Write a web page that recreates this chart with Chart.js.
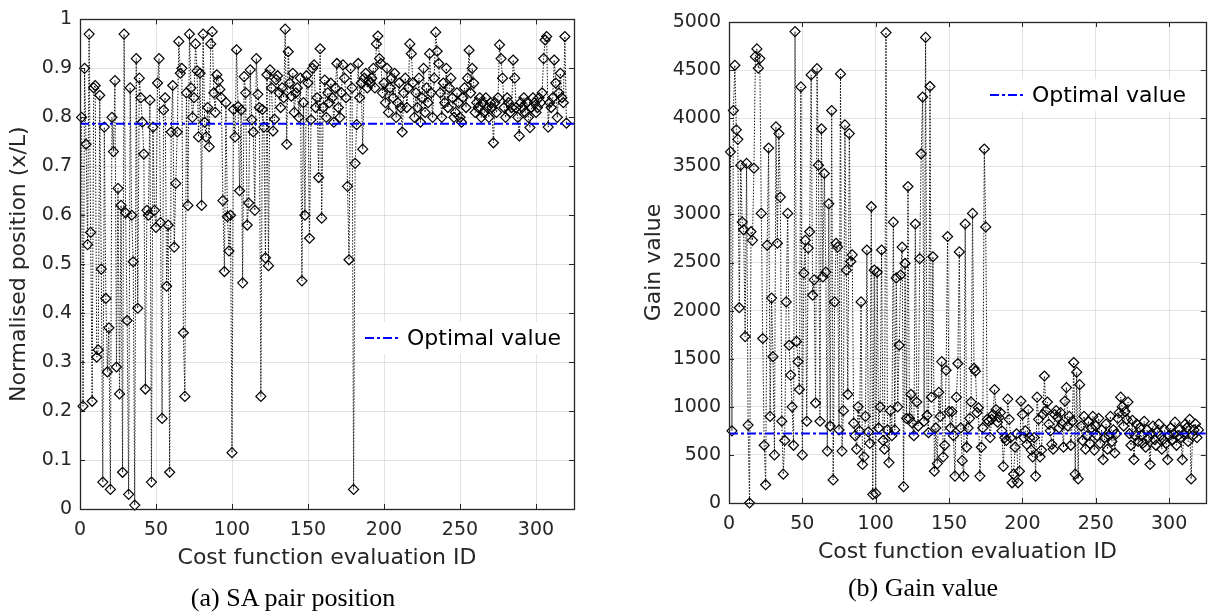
<!DOCTYPE html>
<html>
<head>
<meta charset="utf-8">
<script src="https://cdn.jsdelivr.net/npm/chart.js@4.4.1/dist/chart.umd.min.js"></script>
<style>
  html, body { margin: 0; padding: 0; background: #fff; }
  #wrap { position: relative; width: 1212px; height: 615px; overflow: hidden; }
  .panel { position: absolute; top: 0; height: 615px; }
  #pa { left: 0; width: 600px; }
  #pb { left: 600px; width: 612px; }
  .cap { position: absolute; width: 300px; text-align: center; font-family: "Liberation Serif", "Times New Roman", serif; font-size: 26px; line-height: 30px; color: #000; white-space: nowrap; }
</style>
</head>
<body>
<div id="wrap">
  <div class="panel" id="pa"><canvas id="chartA"></canvas></div>
  <div class="panel" id="pb"><canvas id="chartB"></canvas></div>
  <div class="cap" style="left:143px;top:583px">(a) SA pair position</div>
  <div class="cap" style="left:773px;top:573px">(b) Gain value</div>
</div>
<script>
// Data
const idTicks = [0, 50, 100, 150, 200, 250, 300];
const positionTicks = [0, 0.1, 0.2, 0.3, 0.4, 0.5, 0.6, 0.7, 0.8, 0.9, 1];
const gainTicks = [0, 500, 1000, 1500, 2000, 2500, 3000, 3500, 4000, 4500, 5000];

const optimalPosition = 0.787;
const optimalGain = 722;

const positionValues = [
  0.80, 0.21, 0.90, 0.745, 0.54, 0.97, 0.565, 0.22, 0.86, 0.865,
  0.31, 0.325, 0.845, 0.49, 0.055, 0.78, 0.43, 0.28, 0.37, 0.04,
  0.80, 0.73, 0.875, 0.29, 0.655, 0.235, 0.62, 0.075, 0.97, 0.605,
  0.385, 0.03, 0.86, 0.60, 0.505, 0.008, 0.92, 0.41, 0.88, 0.84,
  0.79, 0.725, 0.245, 0.61, 0.60, 0.835, 0.055, 0.78, 0.61, 0.575,
  0.87, 0.92, 0.585, 0.185, 0.815, 0.84, 0.455, 0.58, 0.075, 0.77,
  0.865, 0.535, 0.665, 0.77, 0.955, 0.89, 0.90, 0.36, 0.23, 0.85,
  0.62, 0.97, 0.86, 0.80, 0.84, 0.95, 0.895, 0.76, 0.89, 0.62,
  0.97, 0.79, 0.76, 0.82, 0.74, 0.95, 0.975, 0.85, 0.81, 0.887,
  0.875, 0.857, 0.84, 0.63, 0.485, 0.83, 0.597, 0.527, 0.60, 0.115,
  0.816, 0.76, 0.938, 0.822, 0.65, 0.815, 0.462, 0.883, 0.85, 0.58,
  0.625, 0.897, 0.795, 0.77, 0.61, 0.92, 0.847, 0.82, 0.23, 0.816,
  0.78, 0.513, 0.887, 0.497, 0.897, 0.86, 0.772, 0.796, 0.877, 0.885,
  0.85, 0.82, 0.86, 0.84, 0.98, 0.745, 0.934, 0.87, 0.843, 0.89,
  0.81, 0.85, 0.86, 0.80, 0.88, 0.466, 0.83, 0.60, 0.885, 0.87,
  0.553, 0.795, 0.90, 0.907, 0.82, 0.84, 0.677, 0.94, 0.594, 0.82,
  0.876, 0.80, 0.85, 0.83, 0.87, 0.84, 0.79, 0.86, 0.91, 0.82,
  0.80, 0.85, 0.907, 0.88, 0.84, 0.659, 0.509, 0.90, 0.86, 0.04,
  0.706, 0.785, 0.91, 0.84, 0.87, 0.735, 0.88, 0.89, 0.86, 0.875,
  0.87, 0.88, 0.90, 0.86, 0.95, 0.966, 0.92, 0.91, 0.85, 0.87,
  0.83, 0.90, 0.81, 0.86, 0.88, 0.84, 0.89, 0.80, 0.83, 0.87,
  0.82, 0.77, 0.85, 0.88, 0.82, 0.86, 0.95, 0.93, 0.87, 0.80,
  0.85, 0.82, 0.88, 0.79, 0.84, 0.90, 0.81, 0.86, 0.83, 0.93,
  0.85, 0.80, 0.88, 0.974, 0.935, 0.91, 0.85, 0.80, 0.87, 0.83,
  0.90, 0.82, 0.86, 0.88, 0.84, 0.80, 0.81, 0.85, 0.83, 0.80,
  0.79, 0.84, 0.86, 0.82, 0.88, 0.937, 0.85, 0.90, 0.87, 0.81,
  0.83, 0.82, 0.84, 0.80, 0.83, 0.81, 0.84, 0.82, 0.80, 0.83,
  0.82, 0.748, 0.83, 0.81, 0.84, 0.948, 0.92, 0.88, 0.82, 0.80,
  0.84, 0.83, 0.81, 0.82, 0.917, 0.88, 0.82, 0.80, 0.762, 0.83,
  0.82, 0.84, 0.81, 0.83, 0.80, 0.779, 0.82, 0.84, 0.83, 0.81,
  0.82, 0.84, 0.83, 0.85, 0.92, 0.958, 0.965, 0.78, 0.83, 0.82,
  0.84, 0.917, 0.87, 0.80, 0.85, 0.89, 0.84, 0.83, 0.965, 0.788
];

const gainValues = [
  3650, 750, 4080, 4550, 3880, 3780, 2030, 3510, 2920, 2840,
  1730, 3530, 810, 0, 2820, 2730, 3480, 4640, 4720, 4520,
  4620, 3010, 1710, 600, 190, 2680, 3690, 900, 2130, 1520,
  500, 3910, 2700, 3840, 3180, 850, 300, 650, 2090, 3010,
  1640, 1330, 1000, 600, 4900, 1680, 1470, 1180, 4325, 500,
  2390, 2730, 850, 2650, 2820, 4450, 2160, 2320, 1040, 4515,
  3512, 850, 3890, 2350, 3425, 2400, 540, 3110, 800, 4080,
  240, 2090, 2700, 2660, 760, 4460, 540, 960, 3930, 2420,
  1130, 3840, 2510, 2580, 830, 700, 560, 1000, 750, 2090,
  400, 480, 900, 2630, 740, 620, 3080, 90, 2420, 100,
  2400, 780, 1000, 2630, 650, 560, 4890, 760, 420, 960,
  700, 2920, 760, 2340, 1000, 1640, 2370, 2660, 170, 2490,
  880, 3290, 880, 1130, 830, 700, 2900, 1050, 800, 2540,
  3630, 4220, 850, 4840, 910, 730, 4330, 1100, 2560, 330,
  780, 410, 1150, 900, 1470, 480, 600, 1380, 2770, 950,
  780, 950, 700, 280, 1100, 1450, 2610, 780, 440, 280,
  2900, 580, 780, 880, 1050, 3010, 1400, 1370, 940, 990,
  280, 580, 780, 3680, 2870, 870, 850, 680, 870, 920,
  1180, 970, 840, 890, 940, 750, 380, 680, 650, 1080,
  870, 680, 210, 300, 580, 720, 210, 330, 1060, 920,
  680, 750, 610, 970, 680, 550, 480, 680, 280, 1100,
  870, 480, 550, 920, 1320, 960, 1050, 820, 750, 610,
  560, 920, 960, 890, 780, 940, 820, 580, 1060, 1200,
  800, 900, 600, 850, 1460, 300, 1360, 250, 1230, 800,
  650, 900, 560, 700, 850, 620, 780, 900, 550, 800,
  700, 880, 620, 760, 450, 680, 820, 560, 700, 900,
  640, 760, 520, 720, 880, 940, 1100, 1000, 800, 950,
  870, 1050, 720, 600, 860, 450, 700, 820, 640, 780,
  700, 620, 850, 580, 760, 680, 400, 720, 800, 660,
  600, 740, 820, 700, 560, 660, 760, 620, 450, 700,
  780, 650, 720, 840, 600, 700, 760, 680, 450, 720,
  820, 780, 640, 870, 250, 700, 760, 820, 680, 760
];

const idMax = 325;
const axisColor = "#262626";
const gridColor = "rgba(38,38,38,0.13)";
const tickFont = { family: "DejaVu Sans", size: 19 };
const titleFont = { family: "DejaVu Sans", size: 22 };

// frame, inward tick marks and the in-plot legend
const framePlugin = {
  id: "frame",
  afterDraw(chart, args, opts) {
    const { ctx, chartArea: a, scales } = chart;
    const x = scales.x, y = scales.y;
    ctx.save();
    ctx.strokeStyle = axisColor;
    ctx.lineWidth = 1;
    ctx.beginPath();
    x.ticks.forEach((t) => {
      const px = Math.round(x.getPixelForValue(t.value)) + 0.5;
      ctx.moveTo(px, a.bottom); ctx.lineTo(px, a.bottom - 5);
      ctx.moveTo(px, a.top); ctx.lineTo(px, a.top + 5);
    });
    y.ticks.forEach((t) => {
      const py = Math.round(y.getPixelForValue(t.value)) + 0.5;
      ctx.moveTo(a.left, py); ctx.lineTo(a.left + 5, py);
      ctx.moveTo(a.right, py); ctx.lineTo(a.right - 5, py);
    });
    ctx.stroke();
    ctx.lineWidth = 1.3;
    ctx.strokeRect(Math.round(a.left) + 0.5, Math.round(a.top) + 0.5,
      Math.round(a.right - a.left), Math.round(a.bottom - a.top));

    // legend
    const lg = opts.legend;
    ctx.font = "22px 'DejaVu Sans'";
    const tw = ctx.measureText(lg.text).width;
    ctx.fillStyle = "#fff";
    ctx.fillRect(lg.x - 6, lg.y - 16, 36 + 6 + tw + 10, 32);
    ctx.strokeStyle = "#0000ff";
    ctx.lineWidth = 2;
    ctx.setLineDash([9, 3, 3, 3]);
    ctx.beginPath();
    ctx.moveTo(lg.x, lg.y); ctx.lineTo(lg.x + 36, lg.y);
    ctx.stroke();
    ctx.setLineDash([]);
    ctx.fillStyle = "#000";
    ctx.textBaseline = "middle";
    ctx.fillText(lg.text, lg.x + 42, lg.y + 1);
    ctx.restore();
  },
};

function makeChart(canvasId, values, optimal, yTicks, yMax, yTitle, box) {
  const points = values.map((v, i) => ({ x: i + 1, y: v }));
  return new Chart(document.getElementById(canvasId), {
    type: "line",
    data: {
      datasets: [
        {
          label: "Optimal value",
          data: [{ x: 0, y: optimal }, { x: idMax, y: optimal }],
          borderColor: "#0000ff",
          borderWidth: 2,
          borderDash: [9, 3, 3, 3],
          pointRadius: 0,
          order: 0,
        },
        {
          label: yTitle,
          data: points,
          borderColor: "#111",
          borderWidth: 1,
          borderDash: [1.5, 1.5],
          pointStyle: "rectRot",
          pointRadius: 5,
          pointBorderWidth: 1.2,
          pointBorderColor: "#000",
          pointBackgroundColor: "rgba(0,0,0,0)",
          clip: false,
          order: 1,
        },
      ],
    },
    options: {
      responsive: true,
      maintainAspectRatio: false,
      animation: false,
      devicePixelRatio: 1,
      layout: { padding: { left: 0, right: box.right, top: box.top, bottom: 0 } },
      plugins: {
        legend: { display: false },
        tooltip: { enabled: false },
        frame: { legend: box.legend },
      },
      scales: {
        x: {
          type: "linear",
          min: 0,
          max: idMax,
          afterBuildTicks: (s) => { s.ticks = idTicks.map((v) => ({ value: v })); },
          afterFit: (s) => { s.height = box.xHeight; },
          grid: { color: gridColor, drawTicks: false },
          border: { display: false },
          ticks: { font: tickFont, color: axisColor, padding: 10, maxRotation: 0, autoSkip: false },
          title: { display: true, text: "Cost function evaluation ID", font: titleFont, color: axisColor, padding: { top: 0, bottom: box.xTitlePad } },
        },
        y: {
          min: 0,
          max: yMax,
          afterBuildTicks: (s) => { s.ticks = yTicks.map((v) => ({ value: v })); },
          afterFit: (s) => { s.width = box.yWidth; },
          grid: { color: gridColor, drawTicks: false },
          border: { display: false },
          ticks: { font: tickFont, color: axisColor, padding: 8, autoSkip: false, callback: (v) => String(v) },
          title: { display: true, text: yTitle, font: titleFont, color: axisColor, padding: { top: box.yTitlePad, bottom: 0 } },
        },
      },
    },
    plugins: [framePlugin],
  });
}

makeChart("chartA", positionValues, optimalPosition, positionTicks, 1,
  "Normalised position (x/L)",
  { top: 14, right: 26, xHeight: 106, xTitlePad: 44, yWidth: 80, yTitlePad: 6,
    legend: { x: 365, y: 338, text: "Optimal value" } });

makeChart("chartB", gainValues, optimalGain, gainTicks, 5000,
  "Gain value",
  { top: 22, right: 2, xHeight: 112, xTitlePad: 50, yWidth: 129, yTitlePad: 41,
    legend: { x: 390, y: 95, text: "Optimal value" } });
</script>
</body>
</html>
